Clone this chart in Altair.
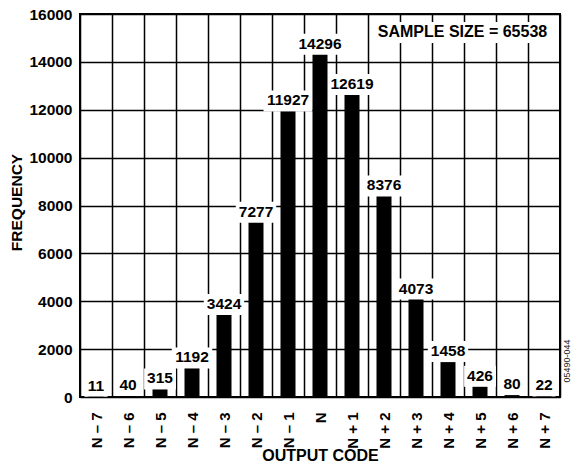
import altair as alt
import pandas as pd

codes = ["N – 7", "N – 6", "N – 5", "N – 4", "N – 3", "N – 2", "N – 1", "N",
         "N + 1", "N + 2", "N + 3", "N + 4", "N + 5", "N + 6", "N + 7"]
freqs = [11, 40, 315, 1192, 3424, 7277, 11927, 14296, 12619, 8376, 4073, 1458, 426, 80, 22]
y_ticks = [0, 2000, 4000, 6000, 8000, 10000, 12000, 14000, 16000]
sample_text = "SAMPLE SIZE = 65538"
fig_id = "05490-044"

FONT = "Liberation Sans"

df = pd.DataFrame({"code": codes, "freq": freqs})
note_df = pd.DataFrame({"t": [sample_text]})
fig_df = pd.DataFrame({"t": [fig_id]})

x_enc = alt.X(
    "code:N", sort=codes,
    scale=alt.Scale(paddingInner=0, paddingOuter=0),
    axis=alt.Axis(
        title="OUTPUT CODE", labelAngle=270, labelFont=FONT, labelFontWeight="bold",
        labelFontSize=15, labelColor="black", labelPadding=15, ticks=False, domain=False,
        grid=True, tickBand="extent", gridColor="black", gridWidth=1.5, gridOpacity=1,
        titleFont=FONT, titleFontSize=16, titleFontWeight="bold", titleColor="black",
        titleY=50, titleBaseline="top",
    ),
)
y_enc = alt.Y(
    "freq:Q",
    scale=alt.Scale(domain=[0, 16000], nice=False),
    axis=alt.Axis(
        title="FREQUENCY", values=y_ticks, format="d", labelFont=FONT, labelFontWeight="bold",
        labelFontSize=15.5, labelColor="black", labelPadding=8, ticks=False, domain=False,
        grid=True, gridColor="black", gridWidth=1.5, gridOpacity=1,
        titleFont=FONT, titleFontSize=15.5, titleFontWeight="bold", titleColor="black",
        titleX=-64, titleY=188, titleAngle=270, titleBaseline="middle", titleAlign="center",
    ),
)

base = alt.Chart(df)

label_bg = base.transform_calculate(
    w="length(toString(datum.freq)) * 8.6 + 6"
).mark_bar(color="white", y2Offset=-21).encode(
    x=x_enc,
    y=y_enc,
    y2="freq:Q",
    size=alt.Size("w:Q", scale=None, legend=None),
)

bars = base.mark_bar(color="black", size=15).encode(x=x_enc, y=y_enc)

labels = base.mark_text(
    dy=-6, baseline="alphabetic", align="center", font=FONT, fontSize=15.5,
    fontWeight="bold", color="black",
).encode(x=x_enc, y=y_enc, text=alt.Text("freq:Q", format="d"))

note_bg = alt.Chart(note_df).mark_rect(color="white").encode(
    x=alt.value(292), x2=alt.value(474), y=alt.value(8), y2=alt.value(29)
)
note = alt.Chart(note_df).mark_text(
    font=FONT, fontSize=16, fontWeight="bold", color="black", align="center",
    baseline="alphabetic",
).encode(x=alt.value(382.5), y=alt.value(23), text="t:N")

fig_label = alt.Chart(fig_df).mark_text(
    font=FONT, fontSize=9, color="#222", angle=270, align="center", baseline="middle",
).encode(x=alt.value(487), y=alt.value(347), text="t:N")

chart = alt.layer(label_bg, bars, labels, note_bg, note, fig_label).properties(
    width=480, height=383,
    autosize=alt.AutoSizeParams(type="none"),
    padding={"left": 72, "top": 6, "right": 13, "bottom": 65},
    background="white",
).configure_view(stroke="black", strokeWidth=2)

chart.save("out.html", embed_options={"renderer": "svg", "actions": False})
